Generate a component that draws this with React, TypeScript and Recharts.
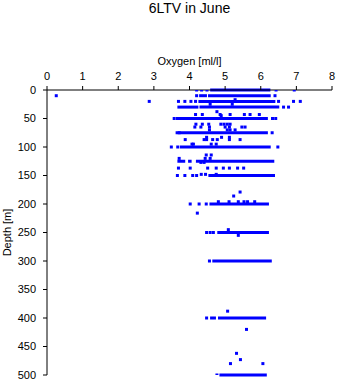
import React from 'react';
import { ScatterChart, Scatter, XAxis, YAxis, ReferenceLine, Label } from 'recharts';

const title = '6LTV in June';
const xLabel = 'Oxygen [ml/l]';
const yLabel = 'Depth [m]';
const oxygenTicks = [0, 1, 2, 3, 4, 5, 6, 7, 8];
const depthTicks = [0, 50, 100, 150, 200, 250, 300, 350, 400, 450, 500];

// dense runs of samples at standard depths: depth, first and last oxygen value
const bandDepths = [0, 10, 10, 20, 30, 30, 50, 75, 100, 125, 125, 125, 150, 200, 250, 300, 400, 500];
const bandStart = [4.58, 4.27, 4.52, 4.25, 3.66, 4.28, 3.62, 3.61, 3.73, 3.66, 3.96, 4.18, 4.53, 4.56, 4.78, 4.64, 4.8, 4.84];
const bandEnd = [6.27, 4.49, 6.28, 6.41, 4.25, 6.52, 6.2, 6.2, 6.28, 3.88, 4.06, 6.38, 6.4, 6.23, 6.23, 6.31, 6.15, 6.17];

// isolated samples
const sampleDepths = [0, 10, 17, 20, 25, 30, 38, 43, 45, 50, 60, 65, 70, 75, 83, 87, 95, 100, 114, 120, 127, 137, 148, 150, 179, 186, 196, 200, 216, 245, 250, 255, 300, 388, 400, 420, 462, 473, 480, 500];
const sampleOxygen = [
  [4.2, 4.34, 4.49, 6.43, 6.94],
  [0.26, 4.2, 6.4],
  [5.28],
  [2.87, 3.69, 3.87, 4.04, 4.17, 6.5, 6.92, 7.11],
  [4.58, 5.2],
  [6.64, 6.78],
  [4.77],
  [4.17, 4.36, 4.86, 5.14, 5.54, 5.7, 5.96],
  [4.89],
  [3.57, 6.33, 6.42],
  [4.18, 4.36, 4.54, 4.88, 4.97, 5.06, 5.14],
  [4.15, 4.32, 4.56, 5.0, 5.12, 5.47, 5.56],
  [4.56, 5.06, 5.14, 5.28],
  [3.71, 6.32],
  [4.48, 4.9, 5.12],
  [3.88, 4.41, 4.48, 4.65, 4.78, 5.12, 5.42],
  [4.07, 4.11, 4.61, 4.75],
  [3.49, 3.67, 6.48],
  [4.47, 4.61],
  [3.71, 4.44, 4.58],
  [4.32, 4.41],
  [3.69, 4.02, 4.51, 4.75, 4.95, 5.12, 5.35, 5.52],
  [4.33, 4.45, 4.75],
  [3.66, 3.87, 4.09, 4.2],
  [5.42],
  [5.24],
  [4.81, 5.11, 5.37, 5.53, 5.63, 5.83],
  [4.02, 4.27, 4.47],
  [4.22],
  [5.09],
  [4.48, 4.58, 4.67],
  [5.37],
  [4.56],
  [5.07],
  [4.48, 4.62, 4.7],
  [5.6],
  [5.32],
  [5.43],
  [5.15, 6.06],
  [4.77],
];

const BLUE = '#0000ff';
const FONT = '"Liberation Sans", Arial, sans-serif';

const points = sampleDepths.flatMap((d, i) => sampleOxygen[i].map((o) => ({ oxygen: o, depth: d })));
const bands = bandDepths.map((d, i) => ({ depth: d, from: bandStart[i], to: bandEnd[i] }));

const Square = (props: any) => {
  const { cx, cy } = props;
  if (cx == null || cy == null) return null;
  return <rect x={cx - 1.5} y={cy - 1.5} width={3} height={3} fill={BLUE} />;
};

export default function App() {
  return (
    <div style={{ position: 'absolute', left: 0, top: 0, width: 338, height: 384, background: '#fff', fontFamily: FONT }}>
      <div style={{ position: 'absolute', left: 47, top: 0, width: 285, textAlign: 'center', fontSize: 14, lineHeight: '16px', color: '#000' }}>
        {title}
      </div>
      <ScatterChart width={338} height={384} margin={{ top: 0, right: 6, bottom: 9, left: 0 }}>
        <XAxis
          type="number"
          dataKey="oxygen"
          orientation="top"
          domain={[0, 8]}
          ticks={oxygenTicks}
          height={90}
          axisLine={{ stroke: '#000' }}
          tickLine={{ stroke: '#000' }}
          tickSize={4}
          tickMargin={6}
          tick={{ fill: '#000', fontSize: 11, fontFamily: FONT }}
          allowDataOverflow
        >
          <Label
            content={(p: any) => {
              const vb = p.viewBox || {};
              return (
                <text x={vb.x + vb.width / 2} y={65} textAnchor="middle" fontSize={11} fontFamily={FONT} fill="#000">
                  {xLabel}
                </text>
              );
            }}
          />
        </XAxis>
        <YAxis
          type="number"
          dataKey="depth"
          reversed
          domain={[0, 500]}
          ticks={depthTicks}
          width={47}
          axisLine={{ stroke: '#000' }}
          tickLine={{ stroke: '#000' }}
          tickSize={4}
          tickMargin={7}
          tick={{ fill: '#000', fontSize: 11, fontFamily: FONT }}
          allowDataOverflow
        >
          <Label
            content={(p: any) => {
              const vb = p.viewBox || {};
              const cy = vb.y + vb.height / 2;
              return (
                <text x={11} y={cy} transform={`rotate(-90, 11, ${cy})`} textAnchor="middle" fontSize={11} fontFamily={FONT} fill="#000">
                  {yLabel}
                </text>
              );
            }}
          />
        </YAxis>
        {bands.map((b, i) => (
          <ReferenceLine
            key={i}
            segment={[{ x: b.from, y: b.depth }, { x: b.to, y: b.depth }]}
            stroke={BLUE}
            strokeWidth={3}
            ifOverflow="visible"
          />
        ))}
        <Scatter data={points} shape={Square} isAnimationActive={false} />
      </ScatterChart>
    </div>
  );
}
